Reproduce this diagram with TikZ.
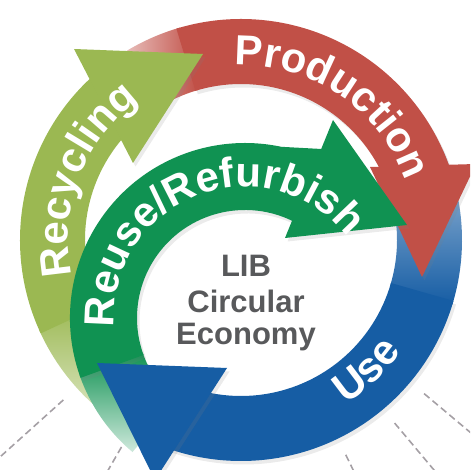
\documentclass[tikz,border=0pt]{standalone}
\usepackage{fontspec}
\setmainfont{Liberation Sans}
\usetikzlibrary{decorations.text, shadows}

\definecolor{prodred}{RGB}{193,80,71}
\definecolor{useblue}{RGB}{22,93,164}
\definecolor{recgreen}{RGB}{155,184,82}
\definecolor{reusegreen}{RGB}{16,146,82}
\definecolor{hubgray}{RGB}{88,89,91}
\definecolor{spokegray}{RGB}{165,160,165}

\newcommand{\arcfont}{\fontsize{42}{42}\selectfont\bfseries}
\newcommand{\hubfont}{\fontsize{31}{31}\selectfont\bfseries}

\begin{document}
\begin{tikzpicture}[
    x=1pt, y=1pt,
    cast/.style={drop shadow={opacity=.16, shadow xshift=2.5pt, shadow yshift=-3.5pt}},
    arctext/.style={decorate, decoration={text along path, text={|\arcfont|#1}, text align=center, text color=white}},
    hub/.style={font=\hubfont, text=hubgray, inner sep=0pt, anchor=base},
    spoke/.style={draw=spokegray, line width=1.6pt, dash pattern=on 7pt off 4pt}
  ]

  \clip (0,0) rectangle (470,470);

  % centres of the outer ring and of the inner ring
  \coordinate (O) at (241,230);
  \coordinate (I) at (245,152);

  % dashed spokes
  \draw[spoke] ([shift={(222:239)}]O) -- ([shift={(222:360)}]O);
  \draw[spoke] ([shift={(240:239)}]O) -- ([shift={(240:360)}]O);
  \draw[spoke] ([shift={(-64:239)}]O) -- ([shift={(-64:360)}]O);
  \draw[spoke] ([shift={(-50:239)}]O) -- ([shift={(-50:360)}]O);
  \draw[spoke] ([shift={(-40:239)}]O) -- ([shift={(-40:360)}]O);

  % Use (blue band)
  \shade[top color=useblue!40!white, bottom color=useblue] ([shift={(24:221)}]O) arc[start angle=24, end angle=-17, radius=221] -- ([shift={(-17:156)}]O) arc[start angle=-17, end angle=24, radius=156] -- cycle;
  \fill[useblue, cast] ([shift={(-16:221)}]O) arc[start angle=-16, end angle=-110, radius=221] -- ([shift={(-110:156)}]O) arc[start angle=-110, end angle=-16, radius=156] -- cycle;

  % Production (red band)
  \shade[left color=prodred!12!white, right color=prodred] ([shift={(131:221)}]O) arc[start angle=131, end angle=106, radius=221] -- ([shift={(106:156)}]O) arc[start angle=106, end angle=131, radius=156] -- cycle;
  \fill[prodred, cast] ([shift={(107:221)}]O) arc[start angle=107, end angle=14, radius=221] -- ([shift={(14:156)}]O) arc[start angle=14, end angle=107, radius=156] -- cycle;

  % Recycling (light green band)
  \shade[bottom color=recgreen!25!white, top color=recgreen] ([shift={(242:221)}]O) arc[start angle=242, end angle=204, radius=221] -- ([shift={(204:156)}]O) arc[start angle=204, end angle=242, radius=156] -- cycle;
  \fill[recgreen] ([shift={(205:221)}]O) arc[start angle=205, end angle=130, radius=221] -- ([shift={(130:156)}]O) arc[start angle=130, end angle=205, radius=156] -- cycle;

  % arrow heads of the outer ring
  \fill[prodred, cast] (370,303) -- (476,306) -- (422,193) -- cycle;
  \fill[recgreen, cast] (203,416) -- (74,421) -- (133,307) -- cycle;

  % Reuse/Refurbish (inner band)
  \shade[bottom color=reusegreen!20!white, top color=reusegreen] ([shift={(230:175)}]I) arc[start angle=230, end angle=199, radius=175] -- ([shift={(199:108)}]I) arc[start angle=199, end angle=230, radius=108] -- cycle;
  \fill[reusegreen, cast] ([shift={(200:175)}]I) arc[start angle=200, end angle=78, radius=175] -- (340,320) -- ([shift={(58:108)}]I) arc[start angle=58, end angle=200, radius=108] -- cycle;
  \fill[reusegreen, cast] (333,350) -- (407,245) -- (285,232) -- cycle;

  % arrow head of Use, on top of both greens
  \fill[useblue, cast] (97,107) -- (227,102) -- (155,-10) -- cycle;

  % labels along the bands
  \path[arctext=Production] ([shift={(102:175)}]O) arc[start angle=102, end angle=10, radius=175];
  \path[arctext=Use] ([shift={(-76:195)}]O) arc[start angle=-76, end angle=-16, radius=195];
  \path[arctext=Recycling] ([shift={(200:173)}]O) arc[start angle=200, end angle=118, radius=173];
  \path[arctext=Reuse/Refurbish] ([shift={(191:131)}]I) arc[start angle=191, end angle=31, radius=131];

  % centre text
  \node[hub] (lib) at (246,193) {LIB};
  \node[hub] (circ) at (246,157) {Circular};
  \node[hub] (econ) at (246,125) {Economy};

\end{tikzpicture}
\end{document}
